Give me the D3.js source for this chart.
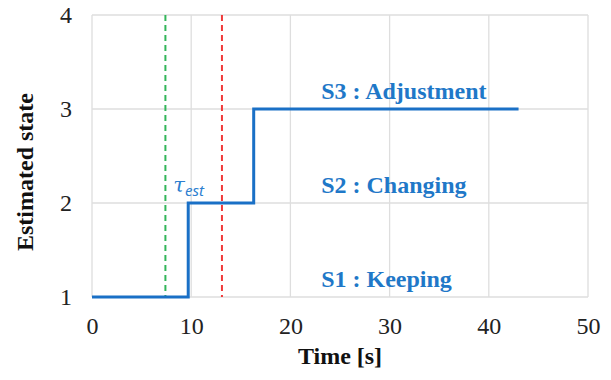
<!DOCTYPE html>
<html>
<head>
<meta charset="utf-8">
<script src="https://cdn.jsdelivr.net/npm/d3@7"></script>
<style>
  body { margin: 0; background: #fff; }
</style>
</head>
<body>
<div id="wrapper"></div>
<script>
const times = [0, 9.7, 16.3, 43];
const states = [1, 2, 3, 3];
const xTicks = [0, 10, 20, 30, 40, 50];
const yTicks = [1, 2, 3, 4];
const markerTimes = [7.4, 13.1];
const markerColors = ["#33b55a", "#f03a3a"];
const stateLabels = ["S1 : Keeping", "S2 : Changing", "S3 : Adjustment"];

const serif = "Liberation Serif";

function drawChart() {
    const dimensions = {
        width: 611,
        height: 380,
        margin: { top: 15, right: 23, bottom: 83, left: 92 }
    };
    dimensions.boundedWidth = dimensions.width - dimensions.margin.left - dimensions.margin.right;
    dimensions.boundedHeight = dimensions.height - dimensions.margin.top - dimensions.margin.bottom;

    const svg = d3.select("#wrapper")
        .append("svg")
        .attr("width", dimensions.width)
        .attr("height", dimensions.height);

    const bounds = svg.append("g")
        .attr("transform", `translate(${dimensions.margin.left},${dimensions.margin.top})`);

    const xScale = d3.scaleLinear()
        .domain([0, 50])
        .range([0, dimensions.boundedWidth]);

    const yScale = d3.scaleLinear()
        .domain([1, 4])
        .range([dimensions.boundedHeight, 0]);

    // grid
    bounds.append("g")
        .selectAll("line")
        .data(xTicks)
        .join("line")
        .attr("x1", d => xScale(d))
        .attr("x2", d => xScale(d))
        .attr("y1", 0)
        .attr("y2", dimensions.boundedHeight)
        .attr("stroke", "#dedede")
        .attr("stroke-width", 1.3);

    bounds.append("g")
        .selectAll("line")
        .data(yTicks)
        .join("line")
        .attr("x1", 0)
        .attr("x2", dimensions.boundedWidth)
        .attr("y1", d => yScale(d))
        .attr("y2", d => yScale(d))
        .attr("stroke", "#dedede")
        .attr("stroke-width", 1.3);

    // axes (labels only)
    const xAxis = d3.axisBottom(xScale).tickValues(xTicks).tickSize(0).tickPadding(20)
        .tickFormat(d3.format("d"));
    const xAxisGroup = bounds.append("g")
        .attr("transform", `translate(0,${dimensions.boundedHeight})`)
        .call(xAxis);
    const yAxis = d3.axisLeft(yScale).tickValues(yTicks).tickSize(0).tickPadding(20)
        .tickFormat(d3.format("d"));
    const yAxisGroup = bounds.append("g").call(yAxis);

    [xAxisGroup, yAxisGroup].forEach(g => {
        g.attr("font-family", serif).attr("font-size", 24);
        g.select(".domain").remove();
        g.selectAll("text")
            .attr("font-family", serif)
            .attr("font-size", 24)
            .attr("fill", "#222");
    });

    // marker lines
    bounds.append("g")
        .selectAll("line")
        .data(markerTimes)
        .join("line")
        .attr("x1", d => xScale(d))
        .attr("x2", d => xScale(d))
        .attr("y1", 0)
        .attr("y2", dimensions.boundedHeight)
        .attr("stroke", (d, i) => markerColors[i])
        .attr("stroke-width", 2)
        .attr("stroke-dasharray", "6,4");

    // state line
    const lineGenerator = d3.line()
        .x((d, i) => xScale(times[i]))
        .y(d => yScale(d))
        .curve(d3.curveStepAfter);

    bounds.append("path")
        .attr("d", lineGenerator(states))
        .attr("fill", "none")
        .attr("stroke", "#1a70c6")
        .attr("stroke-width", 3);

    // state labels
    bounds.append("g")
        .selectAll("text")
        .data(stateLabels)
        .join("text")
        .attr("x", xScale(23.1))
        .attr("y", (d, i) => yScale(i + 1) - 10)
        .attr("font-family", serif)
        .attr("font-weight", "bold")
        .attr("font-size", 24)
        .attr("fill", "#1f78c8")
        .text(d => d);

    // tau_est label
    const tau = bounds.append("text")
        .attr("x", xScale(8.2))
        .attr("y", yScale(2) - 11)
        .attr("font-family", "DejaVu Serif")
        .attr("font-style", "italic")
        .attr("fill", "#2d7fd0");
    tau.append("tspan").attr("font-size", 21).text("τ");
    tau.append("tspan").attr("dy", 4).attr("font-size", 15)
        .attr("font-family", "Noto Sans").text("est");

    // axis titles
    svg.append("text")
        .attr("x", dimensions.margin.left + dimensions.boundedWidth / 2)
        .attr("y", 364)
        .attr("text-anchor", "middle")
        .attr("font-family", serif)
        .attr("font-weight", "bold")
        .attr("font-size", 24)
        .attr("fill", "#111")
        .text("Time [s]");

    svg.append("text")
        .attr("transform", `translate(33,${dimensions.margin.top + dimensions.boundedHeight / 2 + 16}) rotate(-90)`)
        .attr("text-anchor", "middle")
        .attr("font-family", serif)
        .attr("font-weight", "bold")
        .attr("font-size", 24)
        .attr("fill", "#111")
        .text("Estimated state");
}
drawChart();
</script>
</body>
</html>
